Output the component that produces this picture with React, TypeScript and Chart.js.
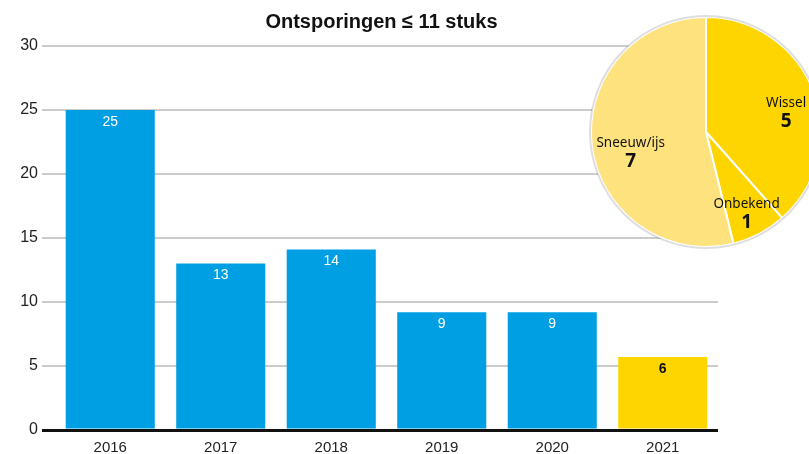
import React, { useEffect, useRef } from "react";
import { Chart, registerables } from "chart.js";

Chart.register(...registerables);

const TITLE = "Ontsporingen \u2264 11 stuks";
const YEARS = ["2016", "2017", "2018", "2019", "2020", "2021"];
const BAR_VALUES = [25, 13, 14.1, 9.2, 9.2, 5.7];
const BAR_LABELS = ["25", "13", "14", "9", "9", "6"];
const Y_TICKS = [0, 5, 10, 15, 20, 25, 30];

const PIE_NAMES = ["Wissel", "Onbekend", "Sneeuw/ijs"];
const PIE_VALUES = [5, 1, 7];

const BLUE = "#009FE3";
const YELLOW = "#FFD500";
const PALE = "#FDE27E";
const BAR_COLORS = [BLUE, BLUE, BLUE, BLUE, BLUE, YELLOW];
const BAR_TEXT = ["#fff", "#fff", "#fff", "#fff", "#fff", "#111"];
const PIE_COLORS = [YELLOW, YELLOW, PALE];
const PIE_FACTOR = [0.745, 0.76, 0.66];
const PIE_NUDGE_Y = [11, 4, 11];

const W = 809;
const H = 454;

export default function App() {
  const barRef = useRef<HTMLCanvasElement>(null);
  const pieRef = useRef<HTMLCanvasElement>(null);

  useEffect(() => {
    const titlePlugin = {
      id: "customTitle",
      afterDraw(chart: any) {
        const { ctx, chartArea } = chart;
        ctx.save();
        ctx.font = "bold 20px 'Liberation Sans', Arial, sans-serif";
        ctx.fillStyle = "#111";
        ctx.textAlign = "center";
        ctx.textBaseline = "middle";
        ctx.fillText(TITLE, (chartArea.left + chartArea.right) / 2 - 5, 22);
        ctx.restore();
      },
    };
    const valuePlugin = {
      id: "barValues",
      afterDatasetsDraw(chart: any) {
        const { ctx } = chart;
        const meta = chart.getDatasetMeta(0);
        ctx.save();
        ctx.textAlign = "center";
        ctx.textBaseline = "middle";
        meta.data.forEach((bar: any, i: number) => {
          ctx.font =
            i === 5
              ? "bold 14px 'Liberation Sans', Arial, sans-serif"
              : "14px 'Liberation Sans', Arial, sans-serif";
          ctx.fillStyle = BAR_TEXT[i];
          ctx.fillText(BAR_LABELS[i], bar.x, bar.y + 12);
        });
        ctx.restore();
      },
    };

    const bar = new Chart(barRef.current!, {
      type: "bar",
      data: {
        labels: YEARS,
        datasets: [
          {
            data: BAR_VALUES,
            backgroundColor: BAR_COLORS,
            borderWidth: 0,
            barPercentage: 0.806,
            categoryPercentage: 1,
          },
        ],
      },
      options: {
        responsive: false,
        animation: false,
        layout: { padding: { top: 46, left: 0, right: 91, bottom: 0 } },
        plugins: { legend: { display: false }, tooltip: { enabled: false }, title: { display: false } },
        scales: {
          x: {
            grid: { display: false, drawTicks: false },
            border: { display: false },
            ticks: {
              color: "#222",
              font: { family: "'Liberation Sans', Arial, sans-serif", size: 15 },
              padding: 9,
            },
            afterFit(scale: any) {
              scale.height = 24;
            },
          },
          y: {
            min: 0,
            max: 30,
            afterBuildTicks(scale: any) {
              scale.ticks = Y_TICKS.map((v) => ({ value: v }));
            },
            grid: {
              color: (c: any) => (c.tick && c.tick.value === 0 ? "#111" : "#cccccc"),
              lineWidth: (c: any) => (c.tick && c.tick.value === 0 ? 3 : 2),
              drawTicks: true,
              tickLength: 13,
            },
            border: { display: false },
            ticks: {
              color: "#222",
              font: { family: "'Liberation Sans', Arial, sans-serif", size: 16 },
              padding: 4,
            },
            afterFit(scale: any) {
              scale.width = 55;
            },
          },
        },
      },
      plugins: [titlePlugin, valuePlugin],
    });

    const pieLabelPlugin = {
      id: "pieLabels",
      afterDraw(chart: any) {
        const { ctx } = chart;
        const meta = chart.getDatasetMeta(0);
        ctx.save();
        const a0 = meta.data[0];
        ctx.beginPath();
        ctx.arc(a0.x, a0.y, a0.outerRadius + 1, 0, Math.PI * 2);
        ctx.strokeStyle = "rgba(0,0,0,0.13)";
        ctx.lineWidth = 2;
        ctx.stroke();
        ctx.textAlign = "center";
        ctx.textBaseline = "middle";
        ctx.fillStyle = "#111";
        meta.data.forEach((arc: any, i: number) => {
          const mid = (arc.startAngle + arc.endAngle) / 2;
          const r = arc.outerRadius * PIE_FACTOR[i];
          const x = arc.x + Math.cos(mid) * r;
          const y = arc.y + Math.sin(mid) * r + PIE_NUDGE_Y[i];
          ctx.font = "13.5px 'Noto Sans', sans-serif";
          ctx.fillText(PIE_NAMES[i], x, y - 9);
          ctx.font = "bold 19px 'Noto Sans', sans-serif";
          ctx.fillText(String(PIE_VALUES[i]), x, y + 9);
        });
        ctx.restore();
      },
    };

    const pie = new Chart(pieRef.current!, {
      type: "pie",
      data: {
        labels: PIE_NAMES,
        datasets: [
          {
            data: PIE_VALUES,
            backgroundColor: PIE_COLORS,
            borderColor: "#ffffff",
            borderWidth: 2,
          },
        ],
      },
      options: {
        responsive: false,
        animation: false,
        layout: { padding: 2 },
        plugins: { legend: { display: false }, tooltip: { enabled: false } },
      },
      plugins: [pieLabelPlugin],
    });

    return () => {
      bar.destroy();
      pie.destroy();
    };
  }, []);

  return (
    <div
      style={{
        position: "fixed",
        left: 0,
        top: 0,
        width: W,
        height: H,
        overflow: "hidden",
        background: "#fff",
      }}
    >
      <canvas ref={barRef} width={W} height={H} style={{ position: "absolute", left: 0, top: 0 }} />
      <canvas
        ref={pieRef}
        width={236}
        height={236}
        style={{ position: "absolute", left: 588, top: 14 }}
      />
    </div>
  );
}
